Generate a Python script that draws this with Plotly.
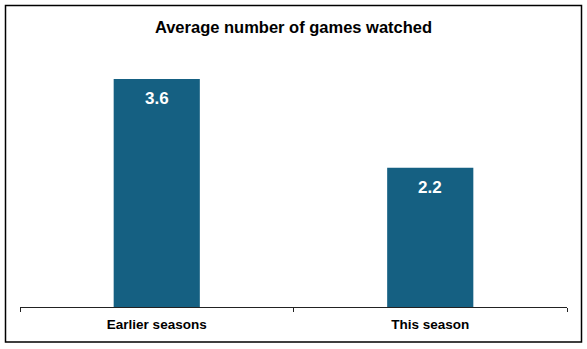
import plotly.graph_objects as go

categories = ["Earlier seasons", "This season"]
values = [3.6, 2.2]
value_labels = ["3.6", "2.2"]

BAR_COLOR = "#156082"
FONT = "Liberation Sans, Arial, sans-serif"

W, H = 587, 349
ML, MR, MT, MB = 20, 20, 60, 42
pw = W - ML - MR
ph = H - MT - MB

def px_to_paper_x(px):
    return (px - ML) / pw

def px_to_paper_y(py):
    return (H - MB - py) / ph

fig = go.Figure(
    go.Bar(
        x=categories,
        y=values,
        marker=dict(color=BAR_COLOR, line=dict(width=0)),
        width=0.315,
        hoverinfo="skip",
    )
)

# value labels sitting just inside the top of each bar
for cat, val, lab in zip(categories, values, value_labels):
    fig.add_annotation(
        x=cat, y=val, text=f"<b>{lab}</b>", showarrow=False,
        yanchor="top", yshift=-8,
        font=dict(family=FONT, size=17, color="white"),
    )

# outer frame around the whole chart
fig.add_shape(
    type="rect", xref="paper", yref="paper",
    x0=px_to_paper_x(5.5), x1=px_to_paper_x(581.5),
    y0=px_to_paper_y(342), y1=px_to_paper_y(5.5),
    line=dict(color="black", width=1.5), fillcolor="rgba(0,0,0,0)",
)

fig.update_layout(
    width=W, height=H,
    margin=dict(l=ML, r=MR, t=MT, b=MB, pad=0),
    paper_bgcolor="white", plot_bgcolor="white",
    showlegend=False,
    title=dict(
        text="<b>Average number of games watched</b>",
        x=0.5, xanchor="center", xref="paper",
        y=1 - 27 / H, yanchor="middle", yref="container",
        font=dict(family=FONT, size=16.5, color="black"),
    ),
    xaxis=dict(
        type="category",
        showline=True, linecolor="#222", linewidth=1,
        ticks="outside", tickson="boundaries", ticklen=4, tickcolor="#222",
        tickfont=dict(family=FONT, size=13.5, color="black"),
        ticklabelstandoff=5,
        showgrid=False, zeroline=False,
        range=[-0.5, 1.5],
    ),
    yaxis=dict(
        range=[0, 3.9], visible=False, showgrid=False, zeroline=False,
    ),
)

fig.update_xaxes(ticktext=[f"<b>{c}</b>" for c in categories], tickvals=categories)

fig.write_html("out.html")
